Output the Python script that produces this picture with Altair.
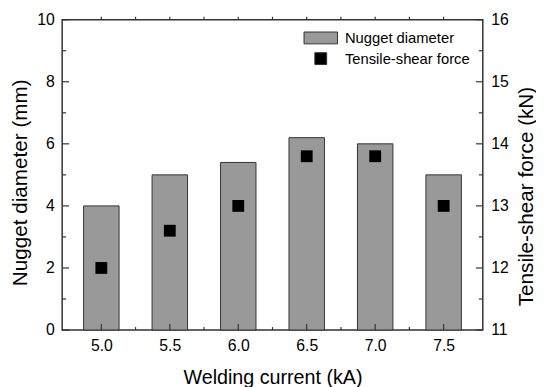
import altair as alt
import pandas as pd

# ---- data ----
current = [5.0, 5.5, 6.0, 6.5, 7.0, 7.5]
nugget_diameter = [4.0, 5.0, 5.4, 6.2, 6.0, 5.0]
tensile_force = [12.0, 12.6, 13.0, 13.8, 13.8, 13.0]
series_names = ["Nugget diameter", "Tensile-shear force"]

x_major = [5.0, 5.5, 6.0, 6.5, 7.0, 7.5]
x_minor = [5.25, 5.75, 6.25, 6.75, 7.25]
x_top = [5.0, 5.25, 5.5, 5.75, 6.0, 6.25, 6.5, 6.75, 7.0, 7.25, 7.5]
left_major = [0, 2, 4, 6, 8, 10]
left_minor = [1, 3, 5, 7, 9]
right_major = [11, 12, 13, 14, 15, 16]
right_minor = [11.5, 12.5, 13.5, 14.5, 15.5]

# ---- styling ----
W, H = 427, 315
FONT = "Liberation Sans"
AX = "#333333"
RECT_PATH = "M-2.833,-1H2.833V1H-2.833Z"
SQ_PATH = "M-1,-1H1V1H-1Z"

xscale = alt.Scale(domain=[4.75, 7.75], nice=False, zero=False)
yl = alt.Scale(domain=[0, 10], nice=False, zero=False)
yr = alt.Scale(domain=[11, 16], nice=False, zero=False)
fscale = alt.Scale(domain=series_names, range=["#999999", "#000000"])
sscale = alt.Scale(domain=series_names, range=[RECT_PATH, SQ_PATH])
kscale = alt.Scale(domain=series_names, range=[AX, AX])

common_axis = dict(
    ticks=False, tickSize=0, domain=False, grid=False,
    labelFontSize=16, labelColor="black", titleColor="black",
    titleFontWeight="normal", labelFont=FONT, titleFont=FONT,
)
x_axis = alt.Axis(values=x_major, format=".1f", title="Welding current (kA)",
                  titleFontSize=20, labelPadding=8, titlePadding=14, **common_axis)
yl_axis = alt.Axis(orient="left", values=left_major, format="d",
                   title="Nugget diameter (mm)", titleFontSize=21,
                   labelPadding=8, titlePadding=6, titleY=165, **common_axis)
yr_axis = alt.Axis(orient="right", values=right_major, format="d",
                   title="Tensile-shear force (kN)", titleFontSize=21,
                   titleAngle=270, titleBaseline="top", titleY=179,
                   labelPadding=8, titlePadding=8, **common_axis)

legend = alt.Legend(
    title=None, orient="none", legendX=255, legendY=11,
    labelFontSize=15, labelFont=FONT, labelColor="black",
    symbolSize=144, symbolStrokeWidth=1,
    symbolOpacity=1, labelOffset=17, padding=0, rowPadding=4,
)

df_bar = pd.DataFrame({"current": current, "value": nugget_diameter,
                       "series": series_names[0]})
df_pt = pd.DataFrame({"current": current, "value": tensile_force,
                      "series": series_names[1]})

bars = alt.Chart(df_bar).mark_bar(size=36, strokeWidth=1).encode(
    x=alt.X("current:Q", scale=xscale, axis=x_axis),
    y=alt.Y("value:Q", scale=yl, axis=yl_axis),
    fill=alt.Fill("series:N", scale=fscale, legend=legend),
    stroke=alt.Stroke("series:N", scale=kscale, legend=legend),
)


def vticks(vals, scale, axis, x0, x1):
    return alt.Chart(pd.DataFrame({"v": vals})).mark_rule(
        color=AX, strokeWidth=1.2).encode(
        y=alt.Y("v:Q", scale=scale, axis=axis),
        x=alt.value(x0), x2=alt.value(x1))


def hticks(vals, y0, y1):
    return alt.Chart(pd.DataFrame({"v": vals})).mark_rule(
        color=AX, strokeWidth=1.2).encode(
        x=alt.X("v:Q", scale=xscale, axis=x_axis),
        y=alt.value(y0), y2=alt.value(y1))


points = alt.Chart(df_pt).mark_point(
    filled=True, size=144, opacity=1, strokeWidth=0).encode(
    x=alt.X("current:Q", scale=xscale, axis=x_axis),
    y=alt.Y("value:Q", scale=yr, axis=yr_axis),
    fill=alt.Fill("series:N", scale=fscale, legend=legend),
    shape=alt.Shape("series:N", scale=sscale, legend=legend),
)

left_group = alt.layer(bars, vticks(left_major, yl, yl_axis, 0, 7),
                       vticks(left_minor, yl, yl_axis, 0, 4))
right_group = alt.layer(points, vticks(right_major, yr, yr_axis, W - 7, W),
                        vticks(right_minor, yr, yr_axis, W - 4, W))

chart = alt.layer(
    left_group, right_group,
    hticks(x_major, H, H - 6), hticks(x_minor, H, H - 3), hticks(x_top, 0, -3),
).resolve_scale(y="independent").properties(
    width=W, height=H,
    padding={"left": 55, "top": 9, "right": 54, "bottom": 58},
    autosize=alt.AutoSizeParams(type="none"),
).configure(font=FONT).configure_view(stroke=AX, strokeWidth=1.5)

chart.save("out.html", embed_options={"renderer": "svg", "actions": False})
